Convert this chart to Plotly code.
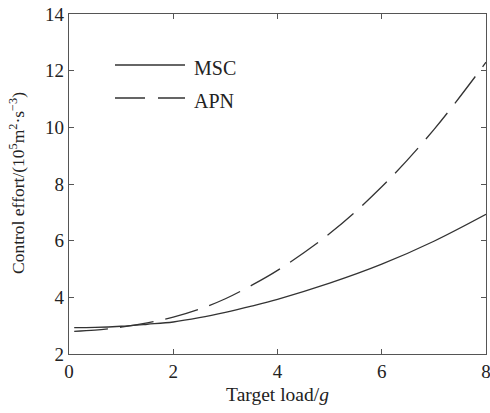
import plotly.graph_objects as go

# Data
target_load = [0.1, 0.5, 1.0, 1.5, 2.0, 2.5, 3.0, 3.5, 4.0, 5.0, 6.0, 7.0, 8.0]
msc_effort = [2.93, 2.94, 2.98, 3.05, 3.13, 3.28, 3.47, 3.69, 3.93, 4.50, 5.17, 5.98, 6.93]
apn_effort = [2.80, 2.84, 2.95, 3.10, 3.30, 3.58, 3.95, 4.42, 4.95, 6.25, 7.90, 9.92, 12.30]
series_names = ["MSC", "APN"]
x_ticks = [0, 2, 4, 6, 8]
y_ticks = [2, 4, 6, 8, 10, 12, 14]

FONT = "Liberation Serif, Times New Roman, serif"
LINE_COLOR = "#333333"
AXIS_COLOR = "#555555"
TEXT_COLOR = "#222222"

W, H = 490, 413
L, R, T, B = 69, 4, 14, 59
PW, PH = W - L - R, H - T - B


def px_x(p):
    return (p - L) / PW


def px_y(p):
    return (H - B - p) / PH


fig = go.Figure()
fig.add_trace(go.Scatter(x=target_load, y=msc_effort, mode="lines", name=series_names[0],
                         line=dict(color=LINE_COLOR, width=1.3, shape="spline")))
fig.add_trace(go.Scatter(x=target_load, y=apn_effort, mode="lines", name=series_names[1],
                         line=dict(color=LINE_COLOR, width=1.3, dash="34px,12px", shape="spline")))

axis_common = dict(
    showgrid=False, zeroline=False, showline=True, linecolor=AXIS_COLOR, linewidth=1.3,
    mirror="ticks", ticks="inside", ticklen=5, tickcolor=AXIS_COLOR, tickwidth=1.2,
    tickfont=dict(family=FONT, size=19, color=TEXT_COLOR), ticklabeloverflow="allow",
    automargin=False,
)

fig.update_layout(
    width=W, height=H,
    margin=dict(l=L, r=R, t=T, b=B, autoexpand=False),
    paper_bgcolor="white", plot_bgcolor="white",
    showlegend=False,
    font=dict(family=FONT, color=TEXT_COLOR),
    xaxis=dict(range=[0, 8], tickvals=x_ticks, ticktext=[str(v) for v in x_ticks], **axis_common,
               title=dict(text="Target load/<i>g</i>", font=dict(family=FONT, size=19.5), standoff=6)),
    yaxis=dict(range=[2, 14], tickvals=y_ticks, ticktext=[str(v) for v in y_ticks], **axis_common),
)

# Y-axis title positioned as in the reference
fig.add_annotation(
    text="Control effort/(10<sup>5</sup>m<sup>2</sup>·s<sup>−3</sup>)",
    xref="paper", yref="paper", x=px_x(17), y=px_y(183), textangle=-90,
    showarrow=False, font=dict(family=FONT, size=17.5, color=TEXT_COLOR),
    xanchor="center", yanchor="middle",
)

# Legend drawn inside the plot like the reference
legend_rows = [(series_names[0], 65, "solid"), (series_names[1], 98, "30px,13px")]
for name, py, dash in legend_rows:
    fig.add_shape(type="line", xref="paper", yref="paper",
                  x0=px_x(115), x1=px_x(185), y0=px_y(py), y1=px_y(py),
                  line=dict(color=LINE_COLOR, width=1.3, dash=dash))
    fig.add_annotation(text=name, xref="paper", yref="paper", x=px_x(192), y=px_y(py + 3),
                       showarrow=False, xanchor="left", yanchor="middle",
                       font=dict(family=FONT, size=20, color=TEXT_COLOR))

fig.write_html("out.html", config={"displayModeBar": False},
               post_script="document.body.style.margin='0';")
